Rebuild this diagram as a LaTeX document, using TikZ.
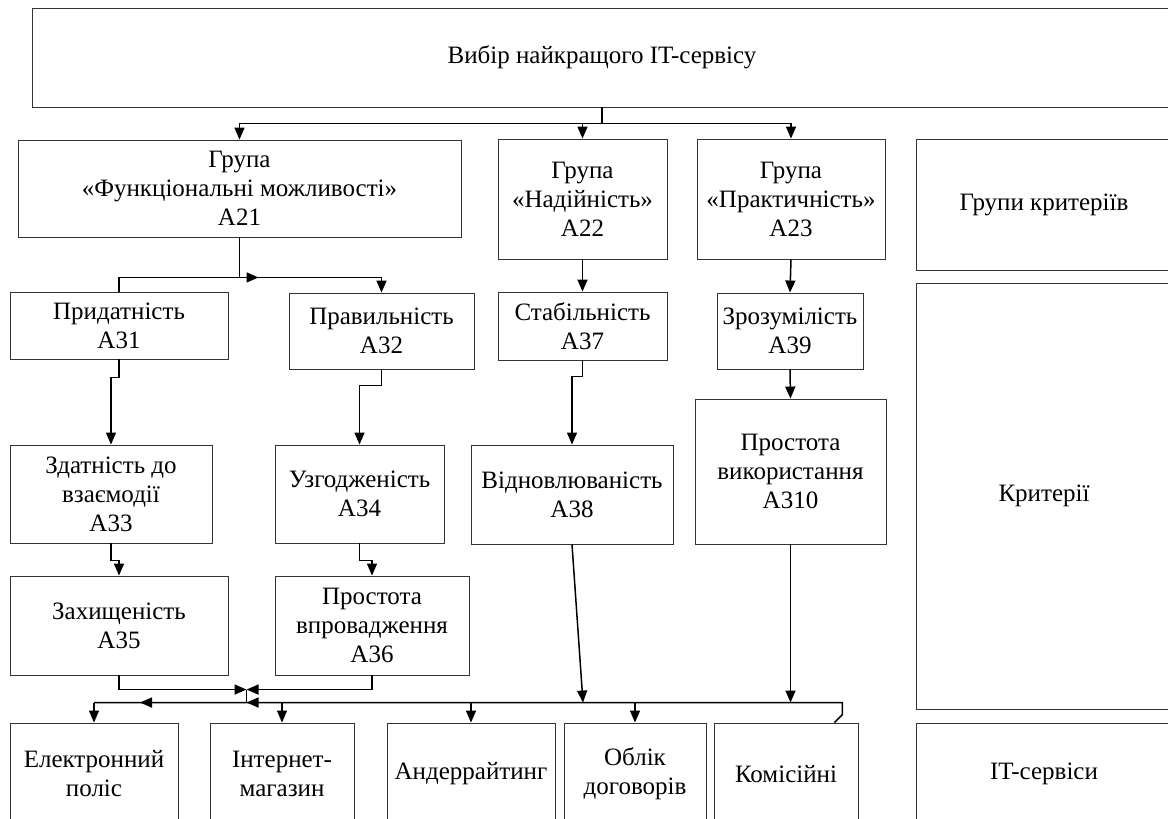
\documentclass[tikz,border=0pt]{standalone}
\usepackage{fontspec}
\setmainfont{Liberation Serif}
\usetikzlibrary{arrows.meta,calc}
% box given by its left, top, right and bottom edges
\newcommand\boxat[6]{%
  \pgfmathsetmacro\bw{#4-#2}\pgfmathsetmacro\bh{#5-#3}%
  \pgfmathsetmacro\bx{(#2+#4)/2}\pgfmathsetmacro\by{(#3+#5)/2}%
  \node[box, minimum width=\bw pt, minimum height=\bh pt] (#1) at (\bx,\by) {#6};}
\begin{document}
\begin{tikzpicture}[x=1pt,y=-1pt,
  box/.style={draw=black!80, line width=0.9pt, align=center, inner sep=0pt,
    font=\fontsize{25}{29}\selectfont},
  link/.style={line width=1.5pt, black},
  arr/.style={link, -{Triangle[length=12pt,width=10pt]}},
]
\useasboundingbox (0,0) rectangle (1168,819);
\clip (0,0) rectangle (1168,819);

% goal
\boxat{top}{32}{8}{1172}{107}{Вибір найкращого IT-сервісу}

% criteria groups
\boxat{A21}{18}{140}{461}{237}{Група\\«Функціональні можливості»\\A21}
\boxat{A22}{498}{139}{667}{259}{Група\\«Надійність»\\A22}
\boxat{A23}{697}{139}{885}{259}{Група\\«Практичність»\\A23}

% criteria
\boxat{A31}{10}{292}{228}{359}{Придатність\\A31}
\boxat{A32}{289}{293}{474}{369}{Правильність\\A32}
\boxat{A37}{498}{292}{667}{360}{Стабільність\\A37}
\boxat{A39}{717}{293}{863}{369}{Зрозумілість\\A39}
\boxat{A33}{10}{445}{212}{543}{Здатність до\\взаємодії\\A33}
\boxat{A34}{275}{445}{444}{543}{Узгодженість\\A34}
\boxat{A38}{471}{445}{673}{544}{Відновлюваність\\A38}
\boxat{A310}{695}{399}{886}{544}{Простота\\використання\\A310}
\boxat{A35}{10}{576}{228}{675}{Захищеність\\A35}
\boxat{A36}{275}{576}{469}{675}{Простота\\впровадження\\A36}

% IT services
\boxat{B1}{10}{723}{178}{825}{Електронний\\поліс}
\boxat{B2}{210}{723}{354}{825}{Інтернет-\\магазин}
\boxat{B3}{387}{723}{555}{825}{Андеррайтинг}
\boxat{B4}{564}{723}{706}{825}{Облік\\договорів}
\boxat{B5}{714}{723}{858}{825}{Комісійні}

% level captions
\boxat{L1}{916}{139}{1172}{270}{Групи критеріїв}
\boxat{L2}{916}{283}{1172}{709}{Критерії}
\boxat{L3}{916}{723}{1172}{825}{IT-сервіси}

% goal -> groups
\coordinate (tb) at ($(top.south)+(0,16)$);
\draw[link] (top.south) -- (tb);
\draw[arr] (tb) -| (A21.north);
\draw[arr] (tb) -| (A22.north);
\draw[arr] (tb) -| (A23.north);

% group A21 -> A31, A32
\coordinate (s21) at ($(A21.south)+(0,40)$);
\draw[link] (A21.south) -- (s21);
\draw[link] (s21) -| (A31.north);
\draw[arr] (s21) -| (A32.north);
\draw[arr] (s21) -- ++(19,0);

% chains inside the groups
\draw[arr] (A31.south) -- ++(0,18) -| (A33.north);
\draw[arr] (A32.south) -- ++(0,16) -| (A34.north);
\draw[arr] (A33.south) -- ++(0,17) -| (A35.north);
\draw[arr] (A34.south) -- ++(0,17) -| (A36.north);
\draw[arr] (A22.south) -- (A37.north);
\draw[arr] (A37.south) -- ++(0,16) -| (A38.north);
\draw[arr] (A23.south) -- (A39.north);
\draw[arr] (A39.south) -- (A310.north);

% bus to the IT services
\coordinate (busL) at ($(B1.north)+(0,-20)$);
\coordinate (busR) at ($(B5.north east)+(-16,-20)$);
\coordinate (jn) at ($(B2.north west)+(37,-33)$);
\draw[arr] (A35.south) |- (jn);
\draw[arr] (A36.south) |- (jn);
\draw[link] (jn) -- (jn |- busL);
\draw[link] (busL) -- (busR) -- ++(0,12) -- ($(B5.north east)+(-24,0)$);
\draw[arr] ($(busL)+(60,0)$) -- ++(-14,0);
\draw[arr] ($(jn |- busL)+(13,0)$) -- (jn |- busL);
\draw[arr] (A38.south) -- ($(A38.south |- busL)+(11,0)$);
\draw[arr] (A310.south) -- (A310.south |- busL);
\draw[arr] (busL) -- (B1.north);
\draw[arr] (B2.north |- busL) -- (B2.north);
\draw[arr] (B3.north |- busL) -- (B3.north);
\draw[arr] (B4.north |- busL) -- (B4.north);
\end{tikzpicture}
\end{document}
